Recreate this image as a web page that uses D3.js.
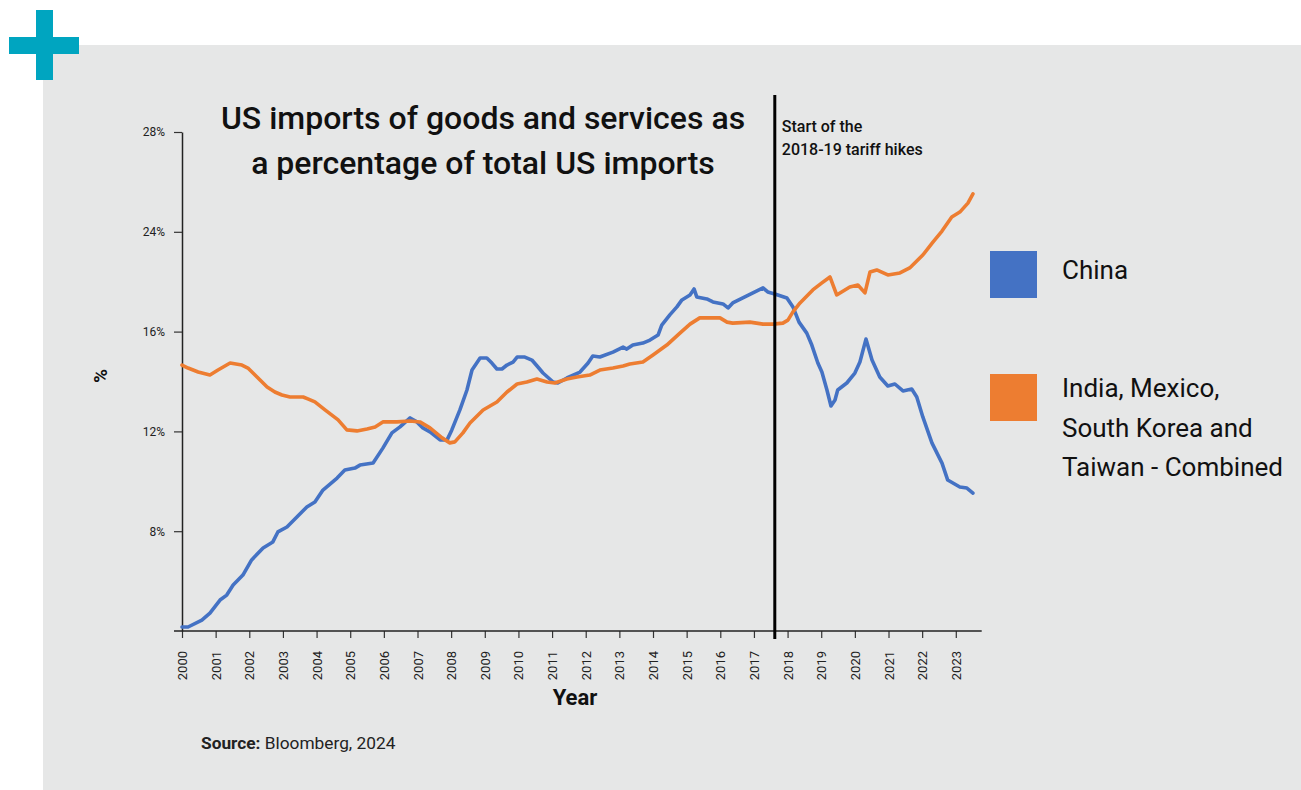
<!DOCTYPE html>
<html>
<head>
<meta charset="utf-8">
<script src="https://cdn.jsdelivr.net/npm/d3@7"></script>
<style>
  html, body { margin: 0; padding: 0; background: #ffffff; }
  svg { display: block; font-family: Roboto, "Noto Sans", sans-serif; }
</style>
</head>
<body>
<svg id="chart" width="1301" height="790"></svg>
<script>
// ---- data ----
const years = d3.range(2000, 2024);           // x tick years
const yTickValues = [8, 12, 16, 20, 24];      // tick positions on the value scale
const yTickLabels = ["8%", "12%", "16%", "24%", "28%"]; // labels as printed
const tariffYear = 2017.62;

const chinaSeries = [
  [2000.00,4.16],[2000.18,4.16],[2000.59,4.44],[2000.83,4.72],[2001.13,5.24],[2001.33,5.44],
  [2001.52,5.84],[2001.81,6.24],[2002.07,6.85],[2002.41,7.33],[2002.70,7.57],[2002.85,7.97],
  [2003.12,8.17],[2003.71,8.97],[2003.95,9.17],[2004.19,9.65],[2004.61,10.13],[2004.84,10.45],
  [2005.14,10.53],[2005.29,10.65],[2005.68,10.73],[2005.97,11.33],[2006.24,11.94],[2006.48,12.18],
  [2006.78,12.54],[2006.98,12.38],[2007.16,12.14],[2007.37,11.98],[2007.67,11.66],[2007.88,11.66],
  [2008.02,12.06],[2008.26,12.86],[2008.47,13.66],[2008.62,14.46],[2008.86,14.94],[2009.06,14.94],
  [2009.21,14.74],[2009.36,14.50],[2009.51,14.50],[2009.66,14.66],[2009.84,14.78],[2009.96,14.98],
  [2010.19,14.98],[2010.40,14.86],[2010.58,14.58],[2010.73,14.34],[2011.03,13.98],[2011.17,13.94],
  [2011.44,14.14],[2011.83,14.38],[2012.07,14.74],[2012.21,15.02],[2012.42,14.98],[2012.81,15.18],
  [2013.11,15.38],[2013.22,15.30],[2013.40,15.46],[2013.70,15.54],[2013.91,15.66],[2014.15,15.86],
  [2014.26,16.26],[2014.50,16.67],[2014.71,16.99],[2014.86,17.27],[2015.10,17.47],[2015.22,17.71],
  [2015.30,17.39],[2015.60,17.31],[2015.78,17.19],[2016.08,17.11],[2016.23,16.95],[2016.37,17.15],
  [2016.67,17.35],[2016.97,17.55],[2017.27,17.75],[2017.41,17.59],[2017.62,17.51],[2017.98,17.35],
  [2018.16,16.99],[2018.34,16.38],[2018.57,15.94],[2018.72,15.46],[2018.90,14.74],[2019.02,14.38],
  [2019.17,13.66],[2019.29,13.02],[2019.41,13.26],[2019.49,13.66],[2019.76,13.94],[2020.00,14.34],
  [2020.15,14.78],[2020.33,15.70],[2020.51,14.86],[2020.74,14.18],[2020.98,13.82],[2021.19,13.90],
  [2021.43,13.62],[2021.69,13.70],[2021.84,13.38],[2022.02,12.58],[2022.29,11.54],[2022.59,10.73],
  [2022.76,10.05],[2023.12,9.77],[2023.33,9.73],[2023.51,9.53]
];

const othersSeries = [
  [2000.00,14.66],[2000.18,14.54],[2000.48,14.38],[2000.83,14.26],[2001.07,14.46],[2001.43,14.74],
  [2001.78,14.66],[2001.96,14.54],[2002.23,14.18],[2002.53,13.78],[2002.76,13.58],[2002.97,13.46],
  [2003.21,13.38],[2003.60,13.38],[2003.74,13.30],[2003.95,13.18],[2004.25,12.86],[2004.64,12.46],
  [2004.90,12.06],[2005.20,12.02],[2005.50,12.10],[2005.74,12.18],[2005.97,12.38],[2006.39,12.38],
  [2006.78,12.42],[2007.07,12.38],[2007.37,12.14],[2007.73,11.74],[2007.96,11.54],[2008.11,11.58],
  [2008.35,11.94],[2008.56,12.34],[2008.95,12.86],[2009.36,13.18],[2009.66,13.58],[2009.96,13.90],
  [2010.25,13.98],[2010.55,14.10],[2010.85,13.98],[2011.08,13.94],[2011.44,14.10],[2011.74,14.18],
  [2012.12,14.26],[2012.42,14.46],[2012.81,14.54],[2013.11,14.62],[2013.31,14.70],[2013.70,14.78],
  [2014.00,15.06],[2014.41,15.46],[2014.80,15.94],[2015.10,16.30],[2015.39,16.55],[2015.78,16.55],
  [2015.99,16.55],[2016.20,16.38],[2016.37,16.34],[2016.88,16.38],[2017.27,16.30],[2017.56,16.30],
  [2017.86,16.34],[2018.01,16.46],[2018.16,16.79],[2018.37,17.15],[2018.75,17.67],[2019.02,17.95],
  [2019.26,18.19],[2019.46,17.47],[2019.85,17.79],[2020.09,17.87],[2020.30,17.55],[2020.45,18.39],
  [2020.65,18.47],[2020.98,18.27],[2021.34,18.35],[2021.63,18.55],[2022.02,19.07],[2022.32,19.59],
  [2022.59,20.03],[2022.88,20.59],[2023.12,20.79],[2023.36,21.15],[2023.51,21.52]
];

const seriesNames = ["China", "India, Mexico,\nSouth Korea and\nTaiwan - Combined"];
const seriesColors = ["#4472c4", "#ed7d31"];

// ---- drawing ----
const svg = d3.select("#chart");

// background panel and decorative plus
svg.append("rect").attr("x", 43).attr("y", 45).attr("width", 1258).attr("height", 745).attr("fill", "#e6e7e7");
svg.append("rect").attr("x", 36).attr("y", 10).attr("width", 17).attr("height", 70).attr("fill", "#00a5c0");
svg.append("rect").attr("x", 9).attr("y", 37).attr("width", 70).attr("height", 17).attr("fill", "#00a5c0");

const x = d3.scaleLinear().domain([2000, 2023.77]).range([182, 981.7]);
const y = d3.scaleLinear().domain([4, 24]).range([631, 132]);

// y axis
const yAxis = d3.axisLeft(y)
  .tickValues(yTickValues)
  .tickFormat((d, i) => yTickLabels[i])
  .tickSize(8).tickPadding(9).tickSizeOuter(0);
const gy = svg.append("g").attr("transform", `translate(${x(2000)},0)`).call(yAxis);
gy.select(".domain").attr("stroke", "#222").attr("stroke-width", 1.5);
gy.selectAll(".tick line").attr("stroke", "#333").attr("stroke-width", 1.2);
gy.selectAll(".tick text").attr("font-size", 12).attr("fill", "#222").attr("font-family", "Roboto");

// x axis
const xAxis = d3.axisBottom(x).tickValues(years).tickFormat(d3.format("d")).tickSize(7).tickSizeOuter(0);
const gx = svg.append("g").attr("transform", `translate(0,${y(4)})`).call(xAxis);
gx.select(".domain").remove();
gx.append("line").attr("x1", 174).attr("x2", 981.7).attr("y1", 0).attr("y2", 0)
  .attr("stroke", "#222").attr("stroke-width", 1.5);
gx.selectAll(".tick line").attr("stroke", "#333").attr("stroke-width", 1.2);
gx.selectAll(".tick text")
  .attr("transform", "rotate(-90)")
  .attr("text-anchor", "end")
  .attr("x", -20).attr("y", 0).attr("dy", "0.35em")
  .attr("font-size", 13).attr("fill", "#222").attr("font-family", "Roboto");

// lines
const line = d3.line().x(d => x(d[0])).y(d => y(d[1]));
[chinaSeries, othersSeries].forEach((s, i) => {
  svg.append("path").datum(s)
    .attr("d", line)
    .attr("fill", "none")
    .attr("stroke", seriesColors[i])
    .attr("stroke-width", 3.6)
    .attr("stroke-linejoin", "round")
    .attr("stroke-linecap", "round");
});

// tariff marker line
svg.append("line")
  .attr("x1", x(tariffYear)).attr("x2", x(tariffYear))
  .attr("y1", 95).attr("y2", 639)
  .attr("stroke", "#000").attr("stroke-width", 3);

const note = svg.append("text").attr("x", x(tariffYear) + 7).attr("y", 132)
  .attr("font-size", 16).attr("font-weight", 500).attr("fill", "#111");
note.append("tspan").attr("x", x(tariffYear) + 7).text("Start of the");
note.append("tspan").attr("x", x(tariffYear) + 7).attr("dy", 22.5).text("2018-19 tariff hikes");

// title
const title = svg.append("text").attr("x", 483).attr("y", 129).attr("text-anchor", "middle")
  .attr("font-size", 32).attr("font-weight", 500).attr("fill", "#111");
title.append("tspan").attr("x", 483).text("US imports of goods and services as");
title.append("tspan").attr("x", 483).attr("dy", 45).text("a percentage of total US imports");

// axis titles
svg.append("text").attr("transform", "translate(107,376) rotate(-90)")
  .attr("text-anchor", "middle").attr("font-size", 19).attr("font-weight", 700).attr("fill", "#111").text("%");
svg.append("text").attr("x", 575).attr("y", 705).attr("text-anchor", "middle")
  .attr("font-size", 22).attr("font-weight", 700).attr("fill", "#111").text("Year");

// legend
const legendTop = [251, 374];
seriesNames.forEach((name, i) => {
  svg.append("rect").attr("x", 990).attr("y", legendTop[i]).attr("width", 47).attr("height", 47)
    .attr("fill", seriesColors[i]);
  const lines = name.split("\n");
  const t = svg.append("text").attr("font-size", 26).attr("fill", "#111");
  const startY = i === 0 ? 279 : 397;
  lines.forEach((ln, j) => {
    t.append("tspan").attr("x", 1062).attr("y", startY + j * 39.5).text(ln);
  });
});

// source
const src = svg.append("text").attr("x", 201).attr("y", 749).attr("font-size", 17.3).attr("fill", "#222");
src.append("tspan").attr("font-weight", 700).text("Source:");
src.append("tspan").text(" Bloomberg, 2024");
</script>
</body>
</html>
